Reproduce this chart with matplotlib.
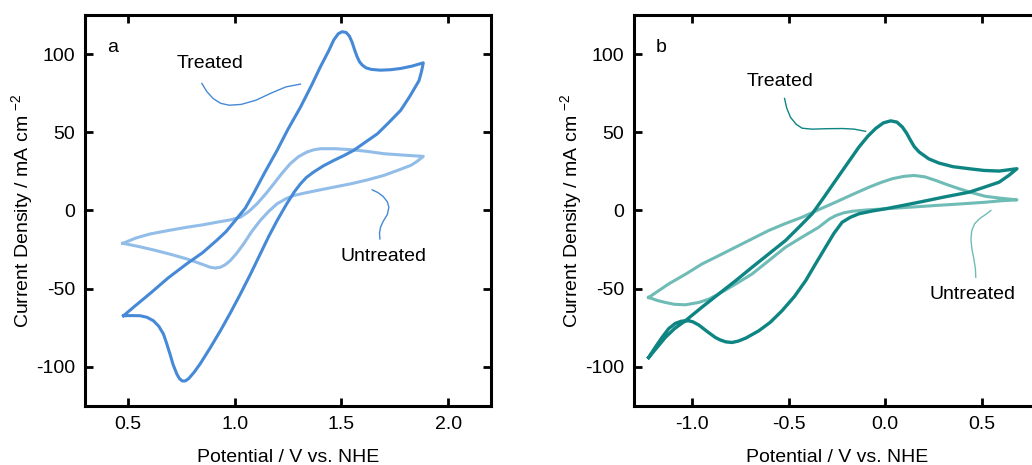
import numpy as np
import matplotlib.pyplot as plt

plt.rcParams['font.family'] = ['Liberation Sans', 'DejaVu Sans']
plt.rcParams['axes.unicode_minus'] = False

# ---- panel a ----
a_treated_x = [0.48, 0.53, 0.605, 0.69, 0.777, 0.85, 0.917, 0.96, 1.003, 1.05, 1.089, 1.14, 1.199,
               1.25, 1.308, 1.36, 1.402, 1.44, 1.464, 1.485, 1.503, 1.522, 1.537, 1.55,
               1.562, 1.574, 1.585, 1.597, 1.615, 1.64, 1.683, 1.73, 1.777, 1.83, 1.883,
               1.875, 1.863, 1.82, 1.777, 1.72, 1.668, 1.61, 1.558, 1.51, 1.464, 1.415,
               1.370, 1.335, 1.308, 1.28, 1.245, 1.199, 1.16, 1.120, 1.075, 1.027, 0.98,
               0.933, 0.885, 0.839, 0.81, 0.785, 0.769, 0.755, 0.742, 0.730, 0.712, 0.698,
               0.682, 0.667, 0.645, 0.620, 0.59, 0.558, 0.52, 0.48]
a_treated_y = [-67.3, -61.5, -53, -43, -34, -27, -19, -13.5, -6.4, 1.5, 10.9, 24, 38.5,
               52, 66, 80, 92, 102, 109, 113, 114.3, 113.8, 111.5, 107.5,
               102.5, 98, 95, 93, 91.2, 90.2, 89.7, 90, 90.8, 92.3, 94.4,
               89, 83, 73, 64, 56, 49, 43.5, 38.5, 35, 32, 28.5,
               24.6, 21, 17, 12, 4.5, -6.4, -16.5, -27.8, -40.5, -53.4, -65.5,
               -77, -88, -98, -103.5, -107.5, -109, -109, -107.5, -104.7, -98.5, -92,
               -85, -79, -74, -70.5, -68.3, -67.3, -67.2, -67.3]

a_untreated_x = [0.477, 0.54, 0.605, 0.69, 0.777, 0.85, 0.917, 0.98, 1.027, 1.065, 1.105,
                 1.145, 1.183, 1.22, 1.261, 1.30, 1.339, 1.37, 1.402, 1.47, 1.542, 1.62,
                 1.698, 1.79, 1.883,
                 1.855, 1.824, 1.76, 1.698, 1.62, 1.542, 1.46, 1.386, 1.33, 1.277, 1.24,
                 1.199, 1.16, 1.120, 1.08, 1.042, 1.01, 0.980, 0.955, 0.933, 0.91, 0.886,
                 0.83, 0.777, 0.70, 0.620, 0.55, 0.477]
a_untreated_y = [-21, -17.5, -15, -12.8, -10.7, -9.2, -7.5, -6, -4.3, -0.8, 4.3,
                 10.5, 17, 23.5, 30, 34.5, 37.4, 38.8, 39.5, 39.5, 38.9, 37.8,
                 36.3, 35.4, 34.6,
                 31.5, 28.8, 25.5, 22.4, 19.5, 17, 14.8, 12.8, 11.2, 9.6, 7.5,
                 4.3, -0.5, -6.4, -13.5, -21.4, -27.3, -32, -34.8, -36.3, -36.8, -36.3,
                 -33.5, -31, -28, -25.2, -23, -21]

# ---- panel b ----
b_treated_x = [-1.224, -1.18, -1.138, -1.09, -1.034, -0.95, -0.862, -0.775, -0.689, -0.60,
               -0.516, -0.445, -0.378, -0.317, -0.257, -0.196, -0.136, -0.09, -0.050,
               -0.01, 0.028, 0.06, 0.088, 0.11, 0.13, 0.15, 0.175, 0.225, 0.278, 0.35,
               0.434, 0.51, 0.589, 0.681,
               0.64, 0.589, 0.51, 0.434, 0.30, 0.175, 0.09, 0.002, -0.07, -0.136, -0.18,
               -0.223, -0.265, -0.309, -0.36, -0.412, -0.47, -0.534, -0.595, -0.654,
               -0.72, -0.76, -0.793, -0.825, -0.855, -0.879, -0.92, -0.965, -0.995,
               -1.017, -1.055, -1.086, -1.12, -1.155, -1.19, -1.224]
b_treated_y = [-94, -87.5, -81.2, -75.5, -70.5, -62, -53.4, -45, -36.3, -27.5,
               -19.2, -10.5, -2.1, 8.5, 19.2, 30, 40.6, 47.5, 52.4,
               56, 57.3, 56.5, 53.4, 49.5, 45, 40.8, 37.4, 33, 30.3, 28,
               26.7, 25.6, 25.2, 26.7,
               22.5, 18.1, 14.8, 11.7, 8.5, 5.3, 3.2, 1.1, -0.4, -2.1, -4.3,
               -7.5, -14.5, -23.5, -34, -44.9, -55, -64.1, -71.5, -76.9,
               -81.5, -83.5, -84.4, -84, -82.7, -81.2, -77.5, -73.2, -71.2,
               -70.5, -70.8, -72.2, -75.5, -81.2, -87.5, -94]

b_untreated_x = [-1.224, -1.121, -1.03, -0.948, -0.86, -0.775, -0.69, -0.603, -0.52, -0.430,
                 -0.345, -0.257, -0.17, -0.084, -0.02, 0.036, 0.095, 0.149, 0.205, 0.261,
                 0.32, 0.382, 0.45, 0.520, 0.60, 0.681,
                 0.60, 0.520, 0.39, 0.261, 0.13, 0.002, -0.1, -0.171, -0.215, -0.255,
                 -0.29, -0.344, -0.43, -0.516, -0.60, -0.689, -0.78, -0.862, -0.915,
                 -0.965, -1.034, -1.09, -1.138, -1.18, -1.224]
b_untreated_y = [-55.6, -47, -40.5, -34.2, -28.8, -23.5, -18.2, -12.8, -8.5, -4.3,
                 0.5, 5.3, 10.2, 14.9, 18, 20.3, 21.8, 22.4, 21.5, 19.2,
                 16.5, 13.9, 11.3, 9, 7.8, 6.8,
                 6.2, 5.3, 4.2, 3.2, 2.1, 1.1, 0.3, -0.5, -1.5, -3.2,
                 -5.5, -10.7, -17, -23.5, -31.8, -40.6, -47.5, -53.4, -56.8,
                 -58.8, -60.3, -60, -58.8, -57.5, -55.6]

# leader lines for the "Treated"/"Untreated" labels
a_lead_t_x = [0.847, 0.87, 0.90, 0.935, 0.975, 1.03, 1.10, 1.17, 1.24, 1.308]
a_lead_t_y = [81.2, 76, 71.5, 68.5, 67.3, 67.8, 70.5, 75, 79, 80.8]
a_lead_u_x = [1.644, 1.67, 1.695, 1.715, 1.722, 1.715, 1.695, 1.683, 1.678, 1.680]
a_lead_u_y = [13.2, 11.5, 9, 5.5, 2.1, -2.5, -7, -10.7, -14.5, -18.2]
b_lead_t_x = [-0.521, -0.51, -0.49, -0.46, -0.430, -0.38, -0.30, -0.22, -0.16, -0.102]
b_lead_t_y = [71.6, 65.5, 59.5, 55, 52.6, 52, 52.3, 52.4, 52, 50.6]
b_lead_u_x = [0.546, 0.52, 0.49, 0.462, 0.447, 0.443, 0.448, 0.458, 0.466, 0.468]
b_lead_u_y = [0, -2.5, -5, -8.5, -13, -18.5, -24.5, -31, -37, -42.7]

yticks = [-100, -50, 0, 50, 100]

fig = plt.figure(figsize=(10.32, 4.65), dpi=100)
ax_a = fig.add_axes([0.0824, 0.1269, 0.3934, 0.8409])
ax_b = fig.add_axes([0.6143, 0.1269, 0.3934, 0.8409])

c_a_t, c_a_u = '#4689d6', '#92bde8'
c_b_t, c_b_u = '#0e8582', '#6fbcb6'
fs = 14

ax_a.plot(a_untreated_x, a_untreated_y, color=c_a_u, lw=2.2, solid_joinstyle='round')
ax_a.plot(a_treated_x, a_treated_y, color=c_a_t, lw=2.2, solid_joinstyle='round')
ax_a.plot(a_lead_t_x, a_lead_t_y, color=c_a_t, lw=1.0)
ax_a.plot(a_lead_u_x, a_lead_u_y, color=c_a_t, lw=1.0)
ax_a.text(0.886, 94, 'Treated', fontsize=fs, ha='center', va='center')
ax_a.text(1.698, -29.5, 'Untreated', fontsize=fs, ha='center', va='center')
ax_a.text(0.43, 104, 'a', fontsize=fs, ha='center', va='center')
ax_a.set_xlim(0.3, 2.2)
ax_a.set_xticks([0.5, 1.0, 1.5, 2.0])

ax_b.plot(b_untreated_x, b_untreated_y, color=c_b_u, lw=2.2, solid_joinstyle='round')
ax_b.plot(b_treated_x, b_treated_y, color=c_b_t, lw=2.4, solid_joinstyle='round')
ax_b.plot(b_lead_t_x, b_lead_t_y, color=c_b_t, lw=1.0)
ax_b.plot(b_lead_u_x, b_lead_u_y, color=c_b_u, lw=1.0)
ax_b.text(-0.542, 82.3, 'Treated', fontsize=fs, ha='center', va='center')
ax_b.text(0.452, -53.4, 'Untreated', fontsize=fs, ha='center', va='center')
ax_b.text(-1.16, 104, 'b', fontsize=fs, ha='center', va='center')
ax_b.set_xlim(-1.3, 0.8)
ax_b.set_xticks([-1.0, -0.5, 0.0, 0.5])

for ax in (ax_a, ax_b):
    ax.set_ylim(-125, 125)
    ax.set_yticks(yticks)
    ax.xaxis.set_major_formatter(plt.FuncFormatter(lambda v, p: f'{v:.1f}'))
    ax.tick_params(direction='in', length=6, width=2, top=True, right=True,
                   labelsize=fs, pad=7)
    for s in ax.spines.values():
        s.set_linewidth(2.2)
    ax.set_xlabel('Potential / V vs. NHE', fontsize=fs, labelpad=12)
    ax.set_ylabel('Current Density / mA cm $^{\\mathregular{-2}}$', fontsize=fs, labelpad=0)

fig.savefig('out.png', dpi=100)
